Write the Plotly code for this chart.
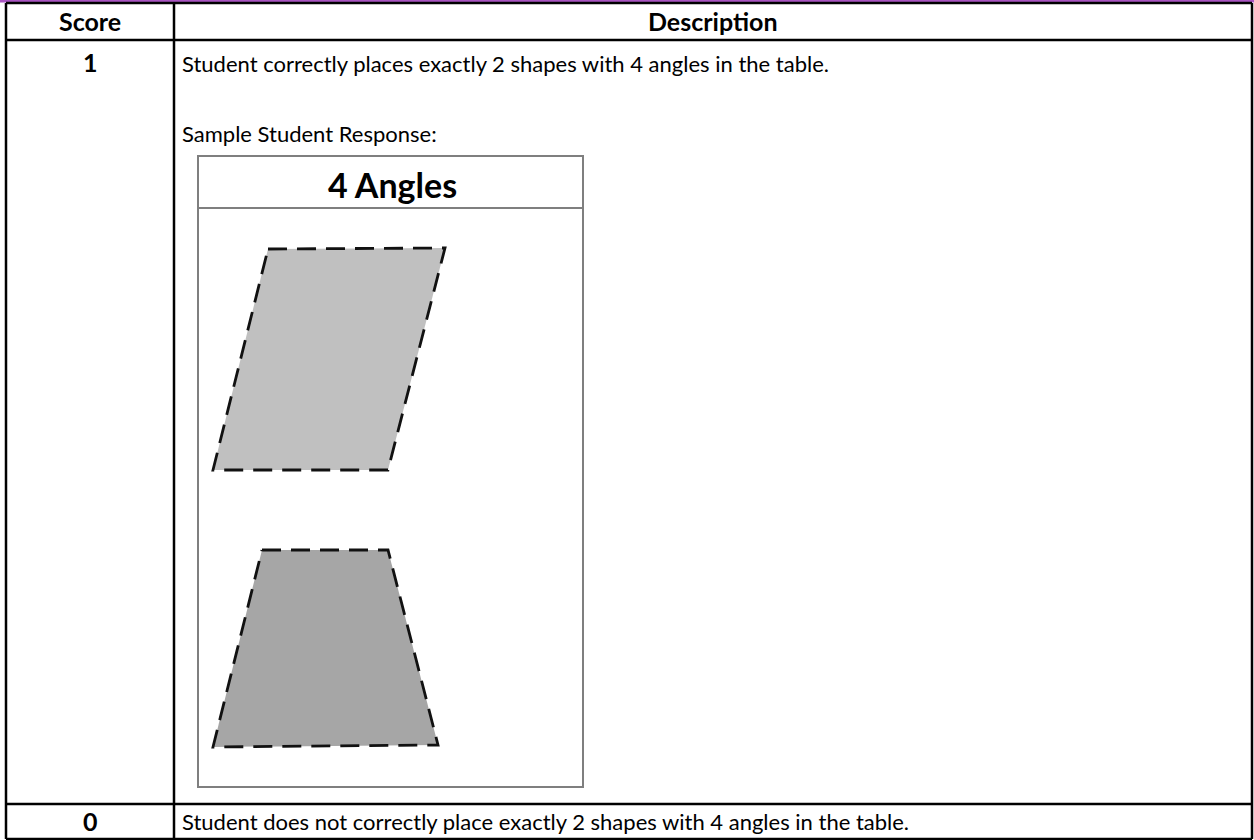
import plotly.graph_objects as go

# ---- data ----
headers = ["Score", "Description"]
scores = ["1", "0"]
descriptions = [
    "Student correctly places exactly 2 shapes with 4 angles in the table.",
    "Student does not correctly place exactly 2 shapes with 4 angles in the table.",
]
sample_label = "Sample Student Response:"
box_title = "4 Angles"

# sample shapes (page pixel coordinates)
parallelogram_x = [268, 445, 388, 213, 268]
parallelogram_y = [249, 248, 470, 470, 249]
trapezoid_x = [262, 388, 438, 213, 262]
trapezoid_y = [550, 550, 745, 747, 550]

W, H = 1254, 840
FONT = "Lato"
col_div = 174
left, right = 6, 1252
top, head_bot, row1_bot, bottom = 3, 40, 804, 839

fig = go.Figure()

for xs, ys, fill in [(parallelogram_x, parallelogram_y, "#C0C0C0"),
                     (trapezoid_x, trapezoid_y, "#A6A6A6")]:
    fig.add_trace(go.Scatter(
        x=xs, y=ys, mode="lines", fill="toself", fillcolor=fill,
        line=dict(color="#111111", width=2.8, dash="19px,10px"),
        hoverinfo="skip", showlegend=False))

shapes = []
shapes.append(dict(type="rect", x0=0, x1=W, y0=0, y1=2.4, fillcolor="#A855C0",
                   line=dict(width=0), layer="below"))
blk = dict(color="black", width=2.5)
for y in [top, head_bot, row1_bot, bottom]:
    shapes.append(dict(type="line", x0=left, x1=right, y0=y, y1=y, line=blk))
for x in [left, col_div, right]:
    shapes.append(dict(type="line", x0=x, x1=x, y0=top, y1=bottom, line=blk))
gry = dict(color="#7F7F7F", width=2)
shapes.append(dict(type="rect", x0=198, x1=583, y0=156, y1=787, line=gry, layer="below"))
shapes.append(dict(type="line", x0=198, x1=583, y0=208, y1=208, line=gry, layer="below"))

ann = []
def txt(x, y, s, size=22, bold=False, xanchor="left"):
    ann.append(dict(x=x, y=y, xref="x", yref="y", text=f"<b>{s}</b>" if bold else s,
                    showarrow=False, xanchor=xanchor, yanchor="middle",
                    font=dict(family=FONT, size=size, color="black")))

txt((left + col_div) / 2, 21, headers[0], size=25, bold=True, xanchor="center")
txt((col_div + right) / 2, 21, headers[1], size=25, bold=True, xanchor="center")
txt((left + col_div) / 2, 62, scores[0], size=25, bold=True, xanchor="center")
txt(180, 63, descriptions[0])
txt(180, 133, sample_label)
txt(392, 184, box_title, size=34, bold=True, xanchor="center")
txt((left + col_div) / 2, 821, scores[1], size=25, bold=True, xanchor="center")
txt(180, 821, descriptions[1])

fig.update_layout(
    width=W, height=H, margin=dict(l=0, r=0, t=0, b=0),
    paper_bgcolor="white", plot_bgcolor="white",
    xaxis=dict(range=[0, W], visible=False, fixedrange=True),
    yaxis=dict(range=[H, 0], visible=False, fixedrange=True),
    shapes=shapes, annotations=ann, showlegend=False,
)
fig.write_html("out.html", config={"displayModeBar": False},
               post_script="document.body.style.margin='0';document.body.style.padding='0';document.body.style.overflow='hidden';")
